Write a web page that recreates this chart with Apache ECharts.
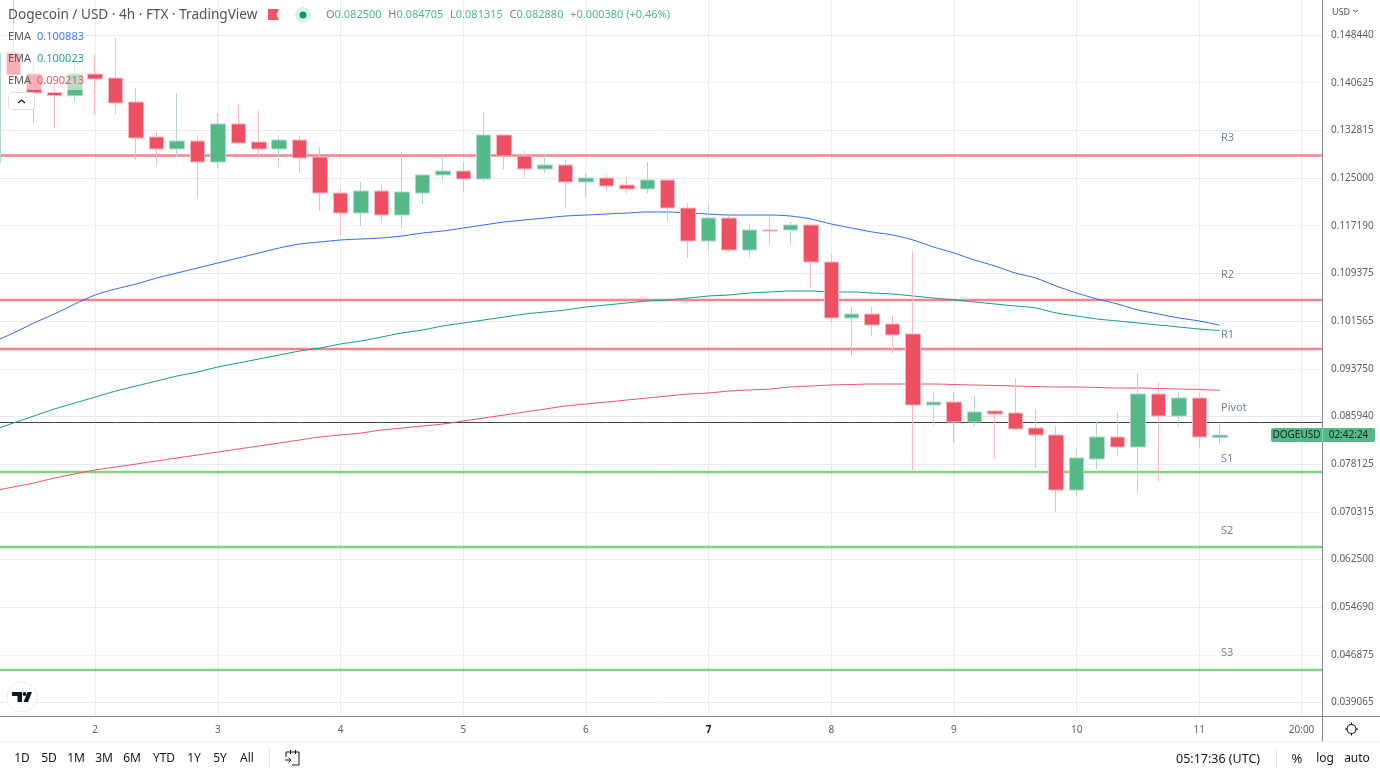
<!DOCTYPE html>
<html>
<head>
<meta charset="utf-8">
<title>Dogecoin / USD 4h</title>
<script src="https://cdn.jsdelivr.net/npm/echarts@6/dist/echarts.min.js"></script>
<style>
html, body { margin: 0; padding: 0; background: #fff; }
#chart { width: 1380px; height: 776px; }
</style>
</head>
<body>
<div id="chart"></div>
<script>
// one label per day, everything else stays blank
var xLabels = ['','','','','','2','','','','','','3','','','','','','4','','','','','','5','','','','','','6','','','','','','7','','','','','','8','','','','','','9','','','','','','10','','','','','','11','','','','','20:00',''];

var opens = [.12747,.14549,.14205,.13902,.13849,.14205,.14139,.13746,.13173,.12976,.13107,.12763,.13386,.13091,.12976,.13123,.12845,.12255,.11927,.12288,.11894,.12255,.12550,.12615,.12484,.13205,.12861,.12648,.12714,.12435,.12501,.12386,.12321,.12468,.12009,.11468,.11845,.11321,.11649,.11649,.11731,.11124,.10207,.10272,.10108,.09945,.08781,.08830,.08503,.08683,.08650,.08404,.08290,.07388,.07896,.08257,.08093,.08961,.08601,.08896,.08250];
var closes = [.14549,.14189,.13894,.13853,.14205,.14123,.13730,.13156,.12976,.13107,.12763,.13386,.13074,.12976,.13123,.12829,.12255,.11927,.12288,.11894,.12271,.12550,.12615,.12484,.13205,.12861,.12648,.12714,.12435,.12501,.12370,.12321,.12468,.12009,.11468,.11845,.11321,.11649,.11632,.11731,.11124,.10207,.10272,.10092,.09928,.08781,.08830,.08503,.08666,.08634,.08388,.08290,.07388,.07913,.08257,.08093,.08961,.08601,.08896,.08257,.08288];
var lows = [.12747,.14139,.13386,.13320,.13746,.13533,.13549,.12796,.12698,.12845,.12189,.12665,.13042,.12812,.12681,.12583,.11960,.11550,.11714,.11796,.11681,.12075,.12452,.12271,.12435,.12648,.12517,.12583,.12009,.12189,.12288,.12255,.12255,.11796,.11190,.11321,.11288,.11206,.11403,.11403,.10698,.10141,.09584,.09912,.09633,.07716,.08453,.08158,.08421,.07896,.08372,.07749,.07028,.07290,.07732,.07946,.07339,.07520,.08421,.08076,.08132];
var highs = [.14549,.15450,.14352,.14025,.14402,.14516,.14795,.13976,.13255,.13894,.13205,.13566,.13697,.13599,.13205,.13189,.13009,.12321,.12435,.12402,.12927,.12566,.12829,.12763,.13582,.13205,.12943,.12878,.12796,.12583,.12566,.12517,.12763,.12468,.12091,.12058,.11894,.11747,.11862,.11780,.11731,.11255,.10387,.10387,.10240,.11305,.08978,.08994,.08929,.08699,.09223,.08716,.08437,.08076,.08503,.08666,.09306,.09158,.08994,.08978,.08471];

var emaBlue = [.09813,.09961,.10125,.10272,.10436,.10584,.10682,.10764,.10862,.10944,.11026,.11108,.11190,.11272,.11354,.11419,.11452,.11485,.11501,.11518,.11550,.11599,.11632,.11681,.11731,.11780,.11813,.11845,.11878,.11894,.11911,.11927,.11944,.11944,.11927,.11911,.11894,.11894,.11894,.11878,.11829,.11747,.11681,.11616,.11567,.11485,.11370,.11272,.11157,.11059,.10944,.10862,.10731,.10616,.10518,.10436,.10338,.10272,.10207,.10158,.10088];
var emaGreen = [.08371,.08486,.08601,.08715,.08814,.08912,.09010,.09092,.09174,.09256,.09322,.09404,.09469,.09535,.09600,.09666,.09715,.09781,.09830,.09895,.09961,.10010,.10076,.10125,.10174,.10223,.10272,.10305,.10338,.10387,.10420,.10453,.10485,.10502,.10534,.10567,.10584,.10616,.10633,.10649,.10649,.10633,.10633,.10616,.10600,.10567,.10534,.10502,.10469,.10436,.10403,.10371,.10289,.10240,.10190,.10158,.10125,.10092,.10059,.10026,.10002];
var emaRed = [.07372,.07438,.07503,.07585,.07651,.07716,.07765,.07814,.07864,.07913,.07962,.08011,.08060,.08109,.08158,.08208,.08257,.08290,.08322,.08371,.08404,.08437,.08470,.08519,.08568,.08617,.08666,.08715,.08765,.08797,.08830,.08863,.08896,.08929,.08961,.08978,.09010,.09027,.09043,.09076,.09092,.09109,.09117,.09125,.09125,.09125,.09125,.09117,.09109,.09101,.09092,.09084,.09076,.09076,.09068,.09060,.09060,.09051,.09043,.09035,.09021];

var priceTicks = [0.039065,0.046875,0.054690,0.062500,0.070315,0.078125,0.085940,0.093750,0.101565,0.109375,0.117190,0.125000,0.132815,0.140625,0.148440];

var resistLevels = [0.12870,0.10502,0.09699];
var pivotLevel = 0.08494;
var supportLevels = [0.07683,0.06454,0.04439];

var font = '"Noto Sans", sans-serif';
var candles = opens.map(function (o, i) { return [o, closes[i], lows[i], highs[i]]; });
var hasLabel = function (i, v) { return v !== ''; };

function txt(text, x, y, size, fill, align, weight) {
  return { type: 'text', z: 20, silent: true, style: {
    text: text, x: x, y: y, fill: fill, textAlign: align || 'left', textVerticalAlign: 'middle',
    font: (weight || 'normal') + ' ' + size + 'px ' + font
  } };
}
function rule(x1, y1, x2, y2, color, width) {
  return { type: 'line', z: 21, silent: true, shape: { x1: x1, y1: y1, x2: x2, y2: y2 }, style: { stroke: color, lineWidth: width || 1 } };
}
function poly(points, color) {
  return { type: 'polygon', z: 21, silent: true, shape: { points: points }, style: { fill: color } };
}
function stroke(points, color, width) {
  return { type: 'polyline', z: 21, silent: true, shape: { points: points }, style: { fill: 'none', stroke: color, lineWidth: width || 1 } };
}
function ohlc(k, v) { return '{k|' + k + '}{v|' + v + '}'; }

var rangeBtns = [['1D',22],['5D',49],['1M',76],['3M',104],['6M',132],['YTD',164],['1Y',194],['5Y',220],['All',247]];
var levelTags = [['R3',1221,138],['R2',1221,275],['R1',1221,335],['Pivot',1221,408],['S1',1221,459],['S2',1221,531],['S3',1221,653]];

var graphics = [
  // washed out box behind the legend rows
  { type: 'rect', z: 15, silent: true, shape: { x: 1, y: 24, width: 83, height: 66 }, style: { fill: 'rgba(255,255,255,0.55)' } },
  txt('Dogecoin / USD · 4h · FTX · TradingView', 8, 15, 13.6, '#50535e'),
  poly([[268,9],[279,9],[276.5,14.5],[279,20],[268,20]], '#f7525f'),
  { type: 'circle', z: 20, silent: true, shape: { cx: 303, cy: 15, r: 8 }, style: { fill: '#dff1ec' } },
  { type: 'circle', z: 20, silent: true, shape: { cx: 303, cy: 15, r: 3.5 }, style: { fill: '#089981' } },
  { type: 'text', z: 20, silent: true, style: {
    x: 326, y: 15, textVerticalAlign: 'middle',
    text: ohlc('O', '0.082500') + '  ' + ohlc('H', '0.084705') + '  ' + ohlc('L', '0.081315') + '  ' + ohlc('C', '0.082880') + '  {v|+0.000380 (+0.46%)}',
    rich: {
      k: { fill: '#7d7f88', font: '11px ' + font },
      v: { fill: '#4db88a', font: '11px ' + font }
    }
  } },
  txt('EMA', 8, 37, 11, '#55585f'), txt('0.100883', 37, 37, 11, '#3f78ff'),
  txt('EMA', 8, 59, 11, '#55585f'), txt('0.100023', 37, 59, 11, '#26a68f'),
  txt('EMA', 8, 81, 11, '#55585f'), txt('0.090213', 37, 81, 11, '#f7525f'),
  { type: 'rect', z: 20, silent: true, shape: { x: 8.5, y: 92.5, width: 26, height: 17, r: 3 }, style: { fill: '#fff', stroke: '#dfe1e6', lineWidth: 1 } },
  stroke([[18,103],[21.5,100],[25,103]], '#131722', 1.2),
  { type: 'circle', z: 20, silent: true, shape: { cx: 22, cy: 697, r: 15 }, style: { fill: '#fff', stroke: '#eceef2', lineWidth: 1 } },
  poly([[12,692],[22,692],[22,702],[17.5,702],[17.5,696],[12,696]], '#131722'),
  { type: 'circle', z: 21, silent: true, shape: { cx: 24.5, cy: 694, r: 1.9 }, style: { fill: '#131722' } },
  poly([[27.5,692],[32,692],[28,702],[23.5,702]], '#131722'),
  txt('USD', 1332, 12, 9, '#50535e'),
  stroke([[1353,10],[1355.5,12],[1358,10]], '#50535e'),
  rule(1322.5, 716, 1322.5, 741, '#858892'),
  rule(1322, 716.5, 1380, 716.5, '#858892'),
  rule(0, 741.5, 1380, 741.5, '#eceef2'),
  { type: 'rect', z: 18, silent: true, shape: { x: 1271, y: 428, width: 51, height: 14, r: [2, 0, 0, 2] }, style: { fill: '#53b987' } },
  { type: 'rect', z: 18, silent: true, shape: { x: 1322, y: 428, width: 53, height: 14, r: [0, 2, 2, 0] }, style: { fill: '#53b987' } },
  rule(1322.5, 428, 1322.5, 442, '#8fd0b0'),
  txt('DOGEUSD', 1296.5, 435, 10, '#14261d', 'center'),
  txt('02:42:24', 1348.5, 435, 10, '#14261d', 'center'),
  { type: 'circle', z: 20, silent: true, shape: { cx: 1351.5, cy: 729, r: 4.5 }, style: { fill: 'none', stroke: '#131722', lineWidth: 1.2 } },
  rule(1351.5, 722.5, 1351.5, 724.5, '#131722'), rule(1351.5, 733.5, 1351.5, 735.5, '#131722'),
  rule(1345, 729, 1347, 729, '#131722'), rule(1356, 729, 1358, 729, '#131722'),
  rule(269.5, 749, 269.5, 768, '#e4e6ea'),
  stroke([[286,757],[286,752],[299,752],[299,765],[292,765]], '#131722'),
  rule(290.5, 750, 290.5, 754, '#131722'), rule(295.5, 750, 295.5, 754, '#131722'),
  stroke([[285,760],[291,760]], '#131722'), stroke([[288.5,757.5],[291,760],[288.5,762.5]], '#131722'),
  txt('05:17:36 (UTC)', 1176, 759, 12.5, '#131722'),
  rule(1276.5, 749, 1276.5, 768, '#e4e6ea'),
  txt('%', 1297, 759, 13, '#131722', 'center'),
  txt('log', 1325, 759, 12, '#131722', 'center'),
  txt('auto', 1357, 759, 12, '#131722', 'center')
];
rangeBtns.forEach(function (b) { graphics.push(txt(b[0], b[1], 759, 12, '#131722', 'center')); });
levelTags.forEach(function (t) { graphics.push(txt(t[0], t[1], t[2], 11, '#74869a')); });

// flat lines across every category, drawn under the EMAs and candles
function level(value, color, width) {
  return {
    name: 'level', type: 'line', z: 2, showSymbol: false, silent: true,
    data: xLabels.map(function () { return value; }),
    lineStyle: { color: color, width: width }
  };
}
function ema(name, values, color) {
  return { name: name, type: 'line', data: values, z: 3, showSymbol: false, silent: true, smooth: 0.3, lineStyle: { color: color, width: 1 } };
}

var series = [];
resistLevels.forEach(function (v) { series.push(level(v, '#f7848f', 2.6)); });
series.push(level(pivotLevel, '#3f424b', 1));
supportLevels.forEach(function (v) { series.push(level(v, '#82d284', 2.6)); });
series.push(ema('EMA 1', emaBlue, '#2e6bf5'));
series.push(ema('EMA 2', emaGreen, '#0f9d88'));
series.push(ema('EMA 3', emaRed, '#f0525f'));
series.push({
  name: 'DOGEUSD', type: 'candlestick', data: candles, z: 5, barWidth: 15, silent: true,
  itemStyle: {
    color: '#53b987', color0: '#ef5061',
    borderColor: '#b3d6cf', borderColor0: '#f9b8c0', borderWidth: 1
  }
});

var chart = echarts.init(document.getElementById('chart'));
chart.setOption({
  animation: false,
  backgroundColor: '#fff',
  grid: { left: -7, right: 58, top: 0, height: 716, outerBoundsMode: 'none' },
  xAxis: {
    type: 'category',
    data: xLabels,
    boundaryGap: false,
    axisLine: { show: true, lineStyle: { color: '#858892', width: 1 } },
    axisTick: { show: false },
    axisLabel: {
      interval: hasLabel, margin: 9, color: '#5d606b', fontFamily: font, fontSize: 10,
      formatter: function (v) { return v === '7' ? '{b|7}' : v; },
      rich: { b: { fontWeight: 'bold', color: '#131722', fontFamily: font, fontSize: 10 } }
    },
    splitLine: { show: true, interval: hasLabel, lineStyle: { color: '#e6edf3', width: 1 } }
  },
  yAxis: {
    type: 'value',
    position: 'right',
    min: 0.036851,
    max: 0.154175,
    axisLine: { show: true, lineStyle: { color: '#858892', width: 1 } },
    axisTick: { show: false, customValues: priceTicks },
    axisLabel: {
      customValues: priceTicks, margin: 9, color: '#5d606b', fontFamily: font, fontSize: 10,
      padding: [3, 0, 0, 0],
      formatter: function (v) { return v.toFixed(6); }
    },
    splitLine: { show: true, lineStyle: { color: ['#e6ebf1', '#f3f5f9', '#e6ebf1'], width: 1 } }
  },
  graphic: graphics,
  series: series
});
</script>
</body>
</html>
